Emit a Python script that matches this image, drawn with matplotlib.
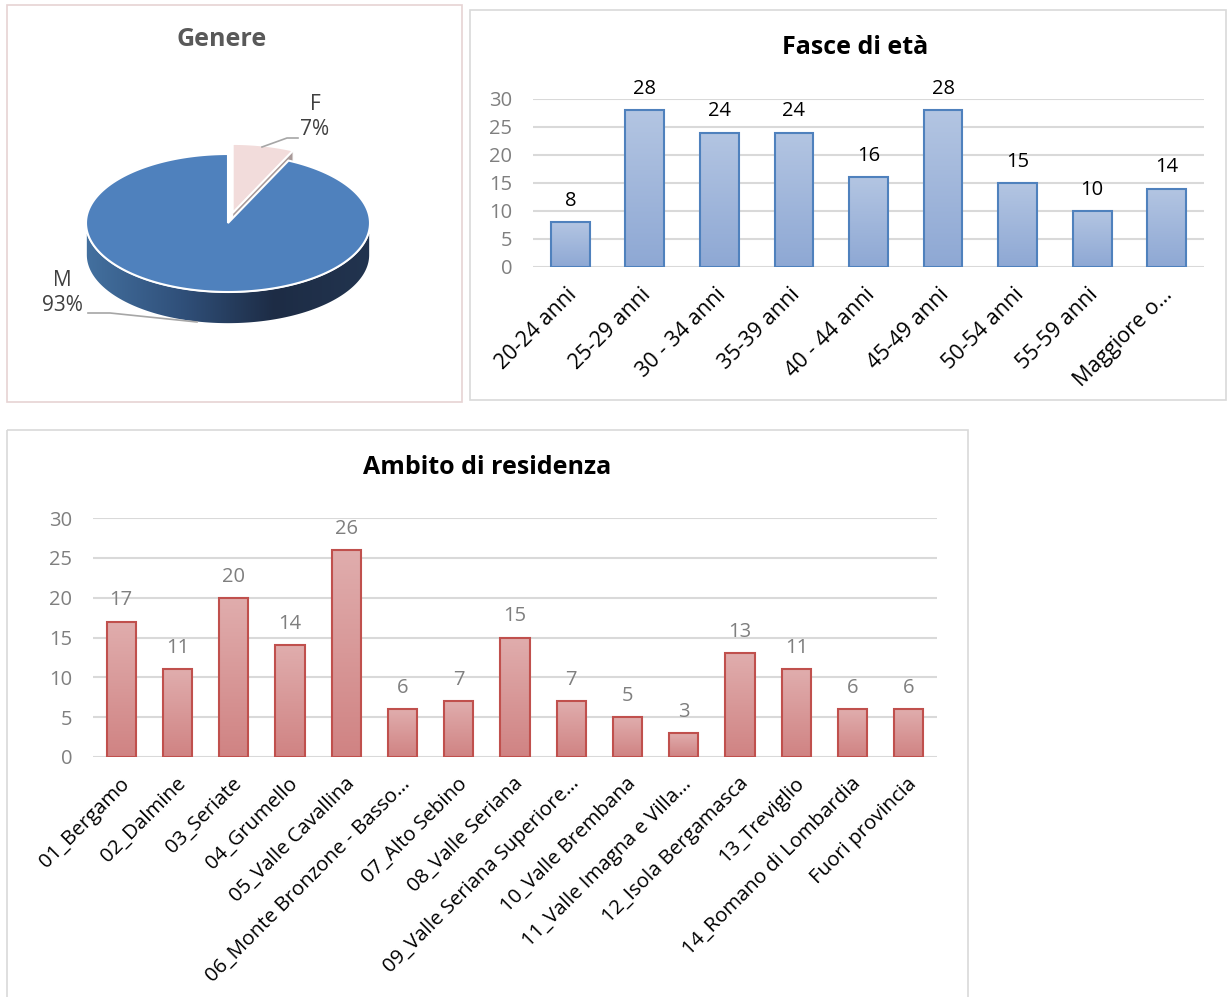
import matplotlib
matplotlib.use('Agg')
import matplotlib.pyplot as plt
import matplotlib.patches as patches
import matplotlib.transforms as mtransforms
from matplotlib.colors import LinearSegmentedColormap
import numpy as np

plt.rcParams['font.family'] = ['Open Sans', 'DejaVu Sans']

# ---- data ----
gender_labels = ['F', 'M']
gender_pct = [7, 93]

age_labels = ['20-24 anni', '25-29 anni', '30 - 34 anni', '35-39 anni', '40 - 44 anni',
              '45-49 anni', '50-54 anni', '55-59 anni', 'Maggiore o…']
age_counts = [8, 28, 24, 24, 16, 28, 15, 10, 14]

area_labels = ['01_Bergamo', '02_Dalmine', '03_Seriate', '04_Grumello', '05_Valle Cavallina',
               '06_Monte Bronzone - Basso…', '07_Alto Sebino', '08_Valle Seriana',
               '09_Valle Seriana Superiore…', '10_Valle Brembana', '11_Valle Imagna e Villa…',
               '12_Isola Bergamasca', '13_Treviglio', '14_Romano di Lombardia', 'Fuori provincia']
area_counts = [17, 11, 20, 14, 26, 6, 7, 15, 7, 5, 3, 13, 11, 6, 6]

W, H = 1228, 997
fig = plt.figure(figsize=(W / 100, H / 100), dpi=100)
fig.patch.set_facecolor('white')

# background axes in pixel coordinates (panels, pie, titles)
pax = fig.add_axes([0, 0, 1, 1], zorder=0)
pax.set_xlim(0, W)
pax.set_ylim(H, 0)
pax.axis('off')

for (x, y, w, h), ec in [((7, 5, 455, 397), '#e6d3d3'),
                         ((470, 10, 756, 390), '#d9d9d9'),
                         ((7, 430, 961, 570), '#d9d9d9')]:
    pax.add_patch(patches.Rectangle((x, y), w, h, fill=False, edgecolor=ec, linewidth=1.2))


def grad_fill(ax, clip, extent, colors, horizontal=False, zorder=2):
    cmap = LinearSegmentedColormap.from_list('g', colors)
    g = np.linspace(0, 1, 128)
    g = g.reshape(1, -1) if horizontal else g.reshape(-1, 1)
    im = ax.imshow(g, cmap=cmap, extent=extent, origin='lower', aspect='auto',
                   zorder=zorder, interpolation='bilinear')
    im.set_clip_path(clip)
    return im


# ---- 3D pie (Genere) ----
cx, cy, rx, ry, depth = 228, 223, 142, 69, 32


def arc(t1, t2, ox=0, oy=0, n=200):
    t = np.radians(np.linspace(t1, t2, n))
    return np.column_stack([cx + ox + rx * np.cos(t), cy + oy - ry * np.sin(t)])


start = 90
spans = [p / sum(gender_pct) * 360 for p in gender_pct]
f_t1, f_t2 = start - spans[0], start
m_t1, m_t2 = start - spans[0] - spans[1], start - spans[0]

# F slice (exploded)
mid = np.radians((f_t1 + f_t2) / 2)
ox, oy = 0.15 * rx * np.cos(mid), -0.15 * ry * np.sin(mid)
tip = np.array([cx + ox, cy + oy])
rim = arc(f_t1, f_t1, ox, oy, 1)[0]
face = np.array([tip, rim, rim + [0, depth], tip + [0, depth]])
pax.add_patch(patches.Polygon(face, closed=True, facecolor='#a89a99', edgecolor='white',
                              linewidth=0.8, zorder=1))
f_top = np.vstack([tip, arc(f_t1, f_t2, ox, oy)])
pax.add_patch(patches.Polygon(f_top, closed=True, facecolor='#f2dcdb', edgecolor='white',
                              linewidth=1.5, zorder=2))

# M side wall (front half) with gradient
front_top = arc(-180, 0)
front_bot = arc(0, -180, 0, depth)
wall = patches.Polygon(np.vstack([front_top, front_bot]), closed=True, facecolor='none',
                       edgecolor='white', linewidth=1.2, zorder=4)
pax.add_patch(wall)
grad_fill(pax, wall, [cx - rx, cx + rx, cy + ry + depth + 2, cy - 2],
          ['#43709f', '#30507a', '#1d2c45', '#22344f'], horizontal=True, zorder=3)

# M top
m_top = np.vstack([[cx, cy], arc(m_t1, m_t2)])
pax.add_patch(patches.Polygon(m_top, closed=True, facecolor='#4f81bd', edgecolor='white',
                              linewidth=1.5, zorder=5))

# leader lines and labels
pax.plot([262, 287, 298], [147, 138, 138], color='#a6a6a6', lw=1.2, zorder=6)
pax.plot([88, 110, 197], [313, 313, 322], color='#a6a6a6', lw=1.2, zorder=6)
pax.text(315, 117, f'{gender_labels[0]}\n{gender_pct[0]}%', ha='center', va='center',
         fontsize=15, color='#404040', linespacing=1.3)
pax.text(62, 293, f'{gender_labels[1]}\n{gender_pct[1]}%', ha='center', va='center',
         fontsize=15, color='#404040', linespacing=1.3)

# titles
pax.text(222, 40, 'Genere', ha='center', va='center', fontsize=18, fontweight='bold', color='#595959')
pax.text(855, 48, 'Fasce di età', ha='center', va='center', fontsize=18, fontweight='bold', color='black')
pax.text(487, 467, 'Ambito di residenza', ha='center', va='center', fontsize=18, fontweight='bold',
         color='black')


def bar_panel(rect, labels, values, grad, edge, label_color, tick_size, dx, dy):
    ax = fig.add_axes(rect, zorder=2)
    ax.set_facecolor('none')
    x = np.arange(len(values))
    bars = ax.bar(x, values, width=0.52, facecolor='none', edgecolor=edge, linewidth=1.5, zorder=3)
    for b in bars:
        grad_fill(ax, b, [b.get_x(), b.get_x() + b.get_width(), 0, b.get_height()], grad, zorder=2)
    ax.set_xlim(-0.5, len(values) - 0.5)
    ax.set_ylim(0, 30)
    ax.set_yticks(range(0, 31, 5))
    ax.grid(axis='y', color='#d9d9d9', linewidth=1.5, zorder=0)
    ax.set_axisbelow(True)
    for s in ax.spines.values():
        s.set_visible(False)
    ax.tick_params(length=0)
    ax.tick_params(axis='y', pad=15, labelsize=14.5, labelcolor='#7f7f7f')
    ax.set_xticks(x)
    ax.set_xticklabels(labels, rotation=45, ha='right', va='center', rotation_mode='anchor',
                       fontsize=tick_size, color='black')
    off = mtransforms.ScaledTranslation(dx / 100, dy / 100, fig.dpi_scale_trans)
    for t in ax.get_xticklabels():
        t.set_transform(t.get_transform() + off)
    for xi, v in zip(x, values):
        ax.annotate(str(v), (xi, v), xytext=(0, 8), textcoords='offset points', ha='center',
                    va='bottom', fontsize=14.5, color=label_color)
    return ax


bar_panel([533 / W, 1 - 267 / H, (1204 - 533) / W, (267 - 99) / H], age_labels, age_counts,
          ['#8ea8d4', '#b3c5e2'], '#4f81bd', 'black', 15.5, 3, -20)
bar_panel([93 / W, 1 - 757 / H, (937 - 93) / W, (757 - 518) / H], area_labels, area_counts,
          ['#d08383', '#e0adad'], '#c0504d', '#7f7f7f', 14.7, 5, -19)

fig.savefig('out.png', dpi=100, facecolor='white')
